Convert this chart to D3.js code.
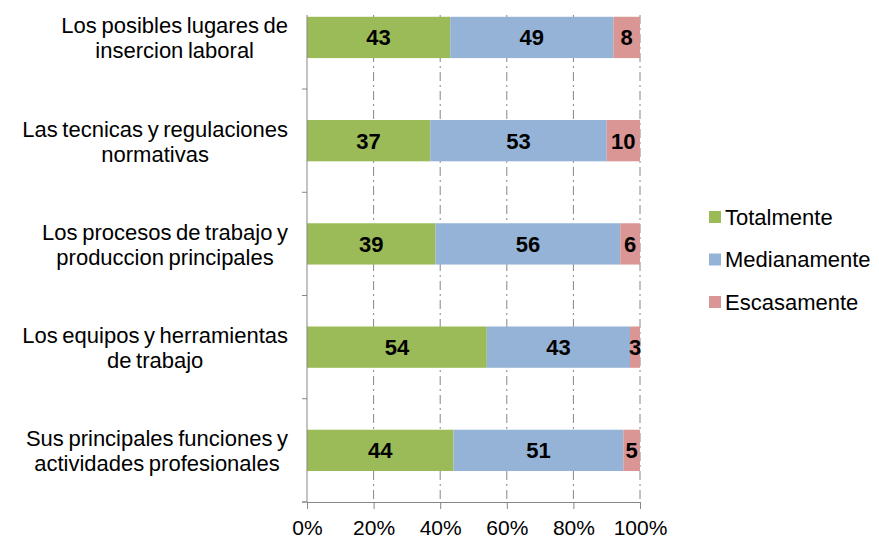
<!DOCTYPE html>
<html>
<head>
<meta charset="utf-8">
<script src="https://cdn.jsdelivr.net/npm/d3@7"></script>
<style>
  body { margin: 0; background: #fff; }
  text { font-family: "Liberation Sans", Arial, sans-serif; fill: #000; }
</style>
</head>
<body>
<svg id="chart" width="879" height="539"></svg>
<script>
// chart data, top to bottom as in the picture
const categories = [
  "Los posibles lugares de\ninsercion laboral",
  "Las tecnicas y regulaciones\nnormativas",
  "Los procesos de trabajo y\nproduccion principales",
  "Los equipos y herramientas\nde trabajo",
  "Sus principales funciones y\nactividades profesionales"
];
const seriesNames = ["Totalmente", "Medianamente", "Escasamente"];
const totalmente   = [43, 37, 39, 54, 44];
const medianamente = [49, 53, 56, 43, 51];
const escasamente  = [8, 10, 6, 3, 5];
const xTicks = [0, 0.2, 0.4, 0.6, 0.8, 1];
const colors = ["#9bbb59", "#95b3d7", "#d99694"];

const rows = categories.map((c, i) => ({
  cat: c,
  Totalmente: totalmente[i],
  Medianamente: medianamente[i],
  Escasamente: escasamente[i]
}));

const svg = d3.select('#chart');
const plot = { left: 307, right: 640, top: 15, bottom: 502 };

const x = d3.scaleLinear().domain([0, 1]).range([plot.left, plot.right]);
// first band is partly cut off at the top, like the original
const y = d3.scaleBand()
  .domain(categories)
  .range([-14.2, plot.bottom])
  .paddingInner(0.6)
  .paddingOuter(0.3);

const color = d3.scaleOrdinal().domain(seriesNames).range(colors);

const stacked = d3.stack()
  .keys(seriesNames)
  .offset(d3.stackOffsetExpand)(rows);

// vertical dash-dot gridlines
svg.append('g')
  .selectAll('line')
  .data(xTicks.slice(1))
  .join('line')
  .attr('x1', d => x(d)).attr('x2', d => x(d))
  .attr('y1', plot.top).attr('y2', plot.bottom)
  .attr('stroke', '#868686')
  .attr('stroke-width', 1)
  .attr('stroke-dasharray', '9,4,2,4');

// bars
const layers = svg.append('g')
  .selectAll('g')
  .data(stacked)
  .join('g')
  .attr('fill', d => color(d.key));

layers.selectAll('rect')
  .data(d => d)
  .join('rect')
  .attr('x', d => x(d[0]))
  .attr('width', d => x(d[1]) - x(d[0]))
  .attr('y', d => y(d.data.cat))
  .attr('height', y.bandwidth());

// value labels
const labels = svg.append('g');
stacked.forEach(layer => {
  labels.selectAll(null)
    .data(layer)
    .join('text')
    .attr('x', d => (x(d[0]) + x(d[1])) / 2)
    .attr('y', d => y(d.data.cat) + y.bandwidth() / 2)
    .attr('dy', '0.36em')
    .attr('text-anchor', 'middle')
    .style('font-size', '22px')
    .style('font-weight', 'bold')
    .text(d => d.data[layer.key]);
});

// x axis
const xAxis = svg.append('g')
  .attr('transform', `translate(0,${plot.bottom})`)
  .call(d3.axisBottom(x).tickValues(xTicks).tickFormat(d3.format('.0%')).tickSize(7).tickSizeOuter(0));
xAxis.select('.domain').attr('stroke', '#868686');
xAxis.selectAll('.tick line').attr('stroke', '#868686');
xAxis.selectAll('.tick text')
  .attr('y', 18)
  .attr('dy', '0.71em')
  .style('font-size', '21px')
  .style('font-family', '"Liberation Sans", Arial, sans-serif');

// y axis line and category boundary ticks
svg.append('line')
  .attr('x1', plot.left).attr('x2', plot.left)
  .attr('y1', plot.top).attr('y2', plot.bottom)
  .attr('stroke', '#868686');
svg.append('line')
  .attr('x1', plot.left - 5).attr('x2', plot.left)
  .attr('y1', plot.bottom).attr('y2', plot.bottom)
  .attr('stroke', '#868686');
svg.append('g')
  .selectAll('line')
  .data(categories)
  .join('line')
  .attr('x1', plot.left - 5).attr('x2', plot.left)
  .attr('y1', d => y(d) + y.bandwidth() / 2 + y.step() / 2)
  .attr('y2', d => y(d) + y.bandwidth() / 2 + y.step() / 2)
  .attr('stroke', '#868686');

// category labels: lines centered on the longest line, block right aligned
const catLabels = svg.append('g');
categories.forEach(c => {
  const lines = c.split('\n');
  const t = catLabels.append('text')
    .attr('text-anchor', 'middle')
    .style('font-size', '22px')
    .style('word-spacing', '-1.5px');
  lines.forEach((ln, i) => {
    t.append('tspan').attr('x', 0).attr('dy', i === 0 ? 0 : 25).text(ln);
  });
  const widths = t.selectAll('tspan').nodes().map(n => n.getComputedTextLength());
  const cx = 288 - d3.max(widths) / 2;
  const cy = y(c) + y.bandwidth() / 2;
  t.selectAll('tspan').attr('x', cx);
  t.attr('transform', `translate(0,${cy - 4})`);
});

// legend
const legend = svg.append('g').attr('transform', 'translate(709,217)');
seriesNames.forEach((s, i) => {
  const g = legend.append('g').attr('transform', `translate(0,${i * 42.5})`);
  g.append('rect')
    .attr('x', 0).attr('y', -6)
    .attr('width', 12).attr('height', 12)
    .attr('fill', color(s));
  g.append('text')
    .attr('x', 16)
    .attr('dy', '0.36em')
    .style('font-size', '22px')
    .text(s);
});
</script>
</body>
</html>
